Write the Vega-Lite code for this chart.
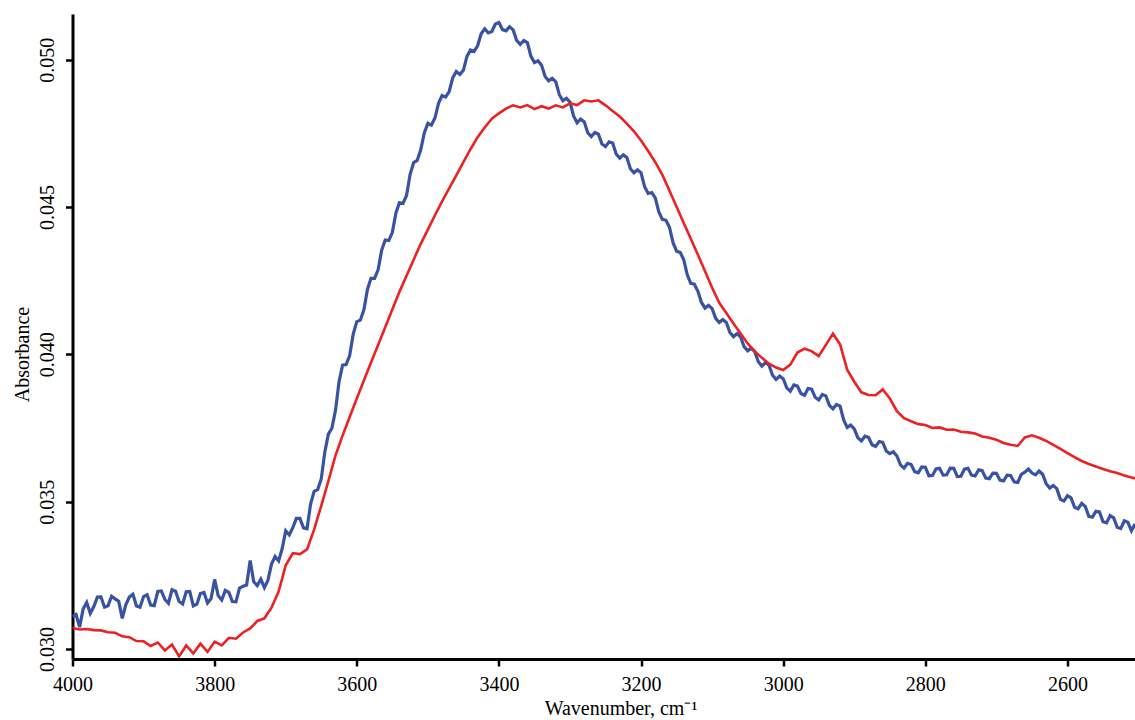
{
  "$schema": "https://vega.github.io/schema/vega-lite/v6.json",
  "autosize": "none",
  "width": 1062.5,
  "height": 645,
  "padding": {"left": 72.5, "top": 14, "right": 0, "bottom": 61},
  "background": "white",
  "config": {
    "view": {"stroke": null},
    "font": "Liberation Serif"
  },
  "data": {"values": [
    {"w":4000,"b":0.03110,"r":0.03071},{"w":3990,"b":0.03074,"r":0.03066},{"w":3980,"b":0.03158,"r":0.03068},{"w":3970,"b":0.03144,"r":0.03064},{"w":3960,"b":0.03177,"r":0.03063},{"w":3950,"b":0.03147,"r":0.03057},{"w":3940,"b":0.03170,"r":0.03055},{"w":3930,"b":0.03104,"r":0.03043},{"w":3920,"b":0.03176,"r":0.03040},{"w":3910,"b":0.03146,"r":0.03027},
    {"w":3900,"b":0.03178,"r":0.03026},{"w":3890,"b":0.03149,"r":0.03010},{"w":3880,"b":0.03195,"r":0.03022},{"w":3870,"b":0.03168,"r":0.02995},{"w":3860,"b":0.03201,"r":0.03015},{"w":3850,"b":0.03161,"r":0.02975},{"w":3840,"b":0.03194,"r":0.03012},{"w":3830,"b":0.03146,"r":0.02985},{"w":3820,"b":0.03188,"r":0.03018},{"w":3810,"b":0.03156,"r":0.02990},
    {"w":3800,"b":0.03236,"r":0.03025},{"w":3790,"b":0.03166,"r":0.03012},{"w":3780,"b":0.03192,"r":0.03038},{"w":3770,"b":0.03160,"r":0.03035},{"w":3760,"b":0.03213,"r":0.03056},{"w":3750,"b":0.03300,"r":0.03070},{"w":3740,"b":0.03215,"r":0.03095},{"w":3730,"b":0.03208,"r":0.03104},{"w":3720,"b":0.03288,"r":0.03140},{"w":3710,"b":0.03299,"r":0.03195},
    {"w":3700,"b":0.03401,"r":0.03284},{"w":3690,"b":0.03412,"r":0.03325},{"w":3680,"b":0.03443,"r":0.03322},{"w":3670,"b":0.03408,"r":0.03338},{"w":3660,"b":0.03535,"r":0.03406},{"w":3650,"b":0.03577,"r":0.03486},{"w":3640,"b":0.03729,"r":0.03570},{"w":3630,"b":0.03809,"r":0.03656},{"w":3620,"b":0.03963,"r":0.03724},{"w":3610,"b":0.03996,"r":0.03787},
    {"w":3600,"b":0.04111,"r":0.03850},{"w":3590,"b":0.04151,"r":0.03911},{"w":3580,"b":0.04258,"r":0.03972},{"w":3570,"b":0.04287,"r":0.04032},{"w":3560,"b":0.04388,"r":0.04092},{"w":3550,"b":0.04413,"r":0.04152},{"w":3540,"b":0.04515,"r":0.04212},{"w":3530,"b":0.04539,"r":0.04267},{"w":3520,"b":0.04651,"r":0.04321},{"w":3510,"b":0.04694,"r":0.04375},
    {"w":3500,"b":0.04784,"r":0.04423},{"w":3490,"b":0.04802,"r":0.04472},{"w":3480,"b":0.04878,"r":0.04519},{"w":3470,"b":0.04892,"r":0.04563},{"w":3460,"b":0.04960,"r":0.04607},{"w":3450,"b":0.04964,"r":0.04652},{"w":3440,"b":0.05033,"r":0.04696},{"w":3430,"b":0.05047,"r":0.04737},{"w":3420,"b":0.05105,"r":0.04770},{"w":3410,"b":0.05096,"r":0.04800},
    {"w":3400,"b":0.05126,"r":0.04818},{"w":3390,"b":0.05098,"r":0.04834},{"w":3380,"b":0.05101,"r":0.04845},{"w":3370,"b":0.05052,"r":0.04838},{"w":3360,"b":0.05058,"r":0.04846},{"w":3350,"b":0.04990,"r":0.04832},{"w":3340,"b":0.04981,"r":0.04842},{"w":3330,"b":0.04928,"r":0.04834},{"w":3320,"b":0.04925,"r":0.04845},{"w":3310,"b":0.04861,"r":0.04838},
    {"w":3300,"b":0.04856,"r":0.04852},{"w":3290,"b":0.04786,"r":0.04846},{"w":3280,"b":0.04789,"r":0.04862},{"w":3270,"b":0.04739,"r":0.04858},{"w":3260,"b":0.04747,"r":0.04862},{"w":3250,"b":0.04705,"r":0.04845},{"w":3240,"b":0.04717,"r":0.04826},{"w":3230,"b":0.04666,"r":0.04807},{"w":3220,"b":0.04668,"r":0.04783},{"w":3210,"b":0.04616,"r":0.04757},
    {"w":3200,"b":0.04616,"r":0.04726},{"w":3190,"b":0.04546,"r":0.04690},{"w":3180,"b":0.04531,"r":0.04652},{"w":3170,"b":0.04458,"r":0.04609},{"w":3160,"b":0.04431,"r":0.04555},{"w":3150,"b":0.04350,"r":0.04501},{"w":3140,"b":0.04322,"r":0.04446},{"w":3130,"b":0.04241,"r":0.04392},{"w":3120,"b":0.04214,"r":0.04338},{"w":3110,"b":0.04157,"r":0.04282},
    {"w":3100,"b":0.04155,"r":0.04226},{"w":3090,"b":0.04108,"r":0.04175},{"w":3080,"b":0.04108,"r":0.04140},{"w":3070,"b":0.04060,"r":0.04105},{"w":3060,"b":0.04060,"r":0.04071},{"w":3050,"b":0.04012,"r":0.04037},{"w":3040,"b":0.04009,"r":0.04010},{"w":3030,"b":0.03960,"r":0.03988},{"w":3020,"b":0.03963,"r":0.03968},{"w":3010,"b":0.03915,"r":0.03955},
    {"w":3000,"b":0.03917,"r":0.03947},{"w":2990,"b":0.03875,"r":0.03965},{"w":2980,"b":0.03892,"r":0.04006},{"w":2970,"b":0.03861,"r":0.04019},{"w":2960,"b":0.03882,"r":0.04011},{"w":2950,"b":0.03845,"r":0.03994},{"w":2940,"b":0.03859,"r":0.04032},{"w":2930,"b":0.03815,"r":0.04070},{"w":2920,"b":0.03824,"r":0.04034},{"w":2910,"b":0.03752,"r":0.03948},
    {"w":2900,"b":0.03747,"r":0.03907},{"w":2890,"b":0.03706,"r":0.03871},{"w":2880,"b":0.03718,"r":0.03862},{"w":2870,"b":0.03687,"r":0.03861},{"w":2860,"b":0.03701,"r":0.03881},{"w":2850,"b":0.03663,"r":0.03850},{"w":2840,"b":0.03655,"r":0.03807},{"w":2830,"b":0.03614,"r":0.03783},{"w":2820,"b":0.03626,"r":0.03773},{"w":2810,"b":0.03598,"r":0.03763},
    {"w":2800,"b":0.03617,"r":0.03760},{"w":2790,"b":0.03589,"r":0.03750},{"w":2780,"b":0.03613,"r":0.03752},{"w":2770,"b":0.03591,"r":0.03744},{"w":2760,"b":0.03613,"r":0.03745},{"w":2750,"b":0.03586,"r":0.03737},{"w":2740,"b":0.03613,"r":0.03735},{"w":2730,"b":0.03587,"r":0.03731},{"w":2720,"b":0.03605,"r":0.03721},{"w":2710,"b":0.03578,"r":0.03717},
    {"w":2700,"b":0.03596,"r":0.03710},{"w":2690,"b":0.03570,"r":0.03699},{"w":2680,"b":0.03589,"r":0.03693},{"w":2670,"b":0.03565,"r":0.03689},{"w":2660,"b":0.03600,"r":0.03718},{"w":2650,"b":0.03597,"r":0.03725},{"w":2640,"b":0.03604,"r":0.03717},{"w":2630,"b":0.03561,"r":0.03706},{"w":2620,"b":0.03555,"r":0.03693},{"w":2610,"b":0.03508,"r":0.03679},
    {"w":2600,"b":0.03520,"r":0.03665},{"w":2590,"b":0.03481,"r":0.03651},{"w":2580,"b":0.03494,"r":0.03638},{"w":2570,"b":0.03450,"r":0.03628},{"w":2560,"b":0.03467,"r":0.03619},{"w":2550,"b":0.03432,"r":0.03611},{"w":2540,"b":0.03453,"r":0.03603},{"w":2530,"b":0.03413,"r":0.03597},{"w":2520,"b":0.03435,"r":0.03589},{"w":2510,"b":0.03401,"r":0.03582},
    {"w":2505,"b":0.03424,"r":0.03579},
    {"w":3995,"b":0.03117},{"w":3985,"b":0.03136},{"w":3975,"b":0.03121},{"w":3965,"b":0.03176},{"w":3955,"b":0.03142},{"w":3945,"b":0.03179},{"w":3935,"b":0.03162},{"w":3925,"b":0.03150},{"w":3915,"b":0.03186},{"w":3905,"b":0.03142},
    {"w":3895,"b":0.03184},{"w":3885,"b":0.03147},{"w":3875,"b":0.03197},{"w":3865,"b":0.03155},{"w":3855,"b":0.03196},{"w":3845,"b":0.03153},{"w":3835,"b":0.03195},{"w":3825,"b":0.03152},{"w":3815,"b":0.03192},{"w":3805,"b":0.03171},
    {"w":3795,"b":0.03181},{"w":3785,"b":0.03199},{"w":3775,"b":0.03161},{"w":3765,"b":0.03207},{"w":3755,"b":0.03217},{"w":3745,"b":0.03228},{"w":3735,"b":0.03237},{"w":3725,"b":0.03233},{"w":3715,"b":0.03314},{"w":3705,"b":0.03340},
    {"w":3695,"b":0.03387},{"w":3685,"b":0.03443},{"w":3675,"b":0.03411},{"w":3665,"b":0.03492},{"w":3655,"b":0.03541},{"w":3645,"b":0.03668},{"w":3635,"b":0.03749},{"w":3625,"b":0.03906},{"w":3615,"b":0.03965},{"w":3605,"b":0.04069},
    {"w":3595,"b":0.04116},{"w":3585,"b":0.04220},{"w":3575,"b":0.04258},{"w":3565,"b":0.04353},{"w":3555,"b":0.04386},{"w":3545,"b":0.04479},{"w":3535,"b":0.04512},{"w":3525,"b":0.04610},{"w":3515,"b":0.04658},{"w":3505,"b":0.04751},
    {"w":3495,"b":0.04778},{"w":3485,"b":0.04852},{"w":3475,"b":0.04873},{"w":3465,"b":0.04938},{"w":3455,"b":0.04950},{"w":3445,"b":0.05011},{"w":3435,"b":0.05028},{"w":3425,"b":0.05088},{"w":3415,"b":0.05091},{"w":3405,"b":0.05121},
    {"w":3395,"b":0.05102},{"w":3385,"b":0.05112},{"w":3375,"b":0.05065},{"w":3365,"b":0.05065},{"w":3355,"b":0.05012},{"w":3345,"b":0.04996},{"w":3335,"b":0.04943},{"w":3325,"b":0.04937},{"w":3315,"b":0.04881},{"w":3305,"b":0.04869},
    {"w":3295,"b":0.04809},{"w":3285,"b":0.04798},{"w":3275,"b":0.04752},{"w":3265,"b":0.04753},{"w":3255,"b":0.04714},{"w":3245,"b":0.04721},{"w":3235,"b":0.04680},{"w":3225,"b":0.04677},{"w":3215,"b":0.04630},{"w":3205,"b":0.04626},
    {"w":3195,"b":0.04569},{"w":3185,"b":0.04549},{"w":3175,"b":0.04483},{"w":3165,"b":0.04455},{"w":3155,"b":0.04379},{"w":3145,"b":0.04346},{"w":3135,"b":0.04270},{"w":3125,"b":0.04238},{"w":3115,"b":0.04176},{"w":3105,"b":0.04166},
    {"w":3095,"b":0.04122},{"w":3085,"b":0.04118},{"w":3075,"b":0.04074},{"w":3065,"b":0.04070},{"w":3055,"b":0.04026},{"w":3045,"b":0.04021},{"w":3035,"b":0.03975},{"w":3025,"b":0.03972},{"w":3015,"b":0.03929},{"w":3005,"b":0.03926},
    {"w":2995,"b":0.03886},{"w":2985,"b":0.03896},{"w":2975,"b":0.03867},{"w":2965,"b":0.03884},{"w":2955,"b":0.03854},{"w":2945,"b":0.03864},{"w":2935,"b":0.03827},{"w":2925,"b":0.03830},{"w":2915,"b":0.03778},{"w":2905,"b":0.03760},
    {"w":2895,"b":0.03717},{"w":2885,"b":0.03722},{"w":2875,"b":0.03693},{"w":2865,"b":0.03704},{"w":2855,"b":0.03672},{"w":2845,"b":0.03669},{"w":2835,"b":0.03625},{"w":2825,"b":0.03630},{"w":2815,"b":0.03602},{"w":2805,"b":0.03618},
    {"w":2795,"b":0.03588},{"w":2785,"b":0.03611},{"w":2775,"b":0.03590},{"w":2765,"b":0.03614},{"w":2755,"b":0.03585},{"w":2745,"b":0.03610},{"w":2735,"b":0.03590},{"w":2725,"b":0.03608},{"w":2715,"b":0.03580},{"w":2705,"b":0.03597},
    {"w":2695,"b":0.03573},{"w":2685,"b":0.03590},{"w":2675,"b":0.03567},{"w":2665,"b":0.03593},{"w":2655,"b":0.03611},{"w":2645,"b":0.03591},{"w":2635,"b":0.03593},{"w":2625,"b":0.03546},{"w":2615,"b":0.03544},{"w":2605,"b":0.03502},
    {"w":2595,"b":0.03513},{"w":2585,"b":0.03476},{"w":2575,"b":0.03484},{"w":2565,"b":0.03447},{"w":2555,"b":0.03465},{"w":2545,"b":0.03428},{"w":2535,"b":0.03445},{"w":2525,"b":0.03409},{"w":2515,"b":0.03430}
  ]},
  "encoding": {
    "x": {
      "field": "w", "type": "quantitative",
      "scale": {"domain": [2505, 4000], "reverse": true, "nice": false, "zero": false},
      "axis": {
        "values": [4000, 3800, 3600, 3400, 3200, 3000, 2800, 2600],
        "format": "d",
        "grid": false,
        "domainColor": "black", "domainWidth": 3,
        "tickColor": "black", "tickWidth": 2.5, "tickSize": 7,
        "labelFont": "Liberation Serif", "labelFontSize": 20, "labelColor": "black", "labelPadding": 8,
        "labelFlush": false, "labelOverlap": false,
        "title": "Wavenumber, cm⁻¹",
        "titleFont": "Liberation Serif", "titleFontSize": 20, "titleFontWeight": "normal", "titleColor": "black",
        "titleX": 548, "titleY": 55, "titleBaseline": "alphabetic", "titleAlign": "center"
      }
    }
  },
  "layer": [
    {
      "mark": {"type": "line", "color": "#3953a4", "strokeWidth": 3.2, "clip": true, "invalid": "filter"},
      "encoding": {
        "y": {
          "field": "b", "type": "quantitative",
          "scale": {"domain": [0.02966, 0.05155], "nice": false, "zero": false},
          "axis": {
            "values": [0.030, 0.035, 0.040, 0.045, 0.050],
            "format": ".3f",
            "grid": false,
            "domainColor": "black", "domainWidth": 3,
            "tickColor": "black", "tickWidth": 2.5, "tickSize": 7,
            "labelFont": "Liberation Serif", "labelFontSize": 20, "labelColor": "black", "labelPadding": 8,
            "labelAngle": -90, "labelAlign": "center", "labelBaseline": "bottom",
            "labelFlush": false, "labelOverlap": false,
            "title": "Absorbance",
            "titleFont": "Liberation Serif", "titleFontSize": 20, "titleFontWeight": "normal", "titleColor": "black",
            "titleAngle": -90, "titleX": -50, "titleY": 340, "titleBaseline": "middle", "titleAlign": "center"
          }
        }
      }
    },
    {
      "mark": {"type": "line", "color": "#ed2024", "strokeWidth": 2.6, "clip": true, "invalid": "filter"},
      "encoding": {
        "y": {"field": "r", "type": "quantitative"}
      }
    }
  ]
}
